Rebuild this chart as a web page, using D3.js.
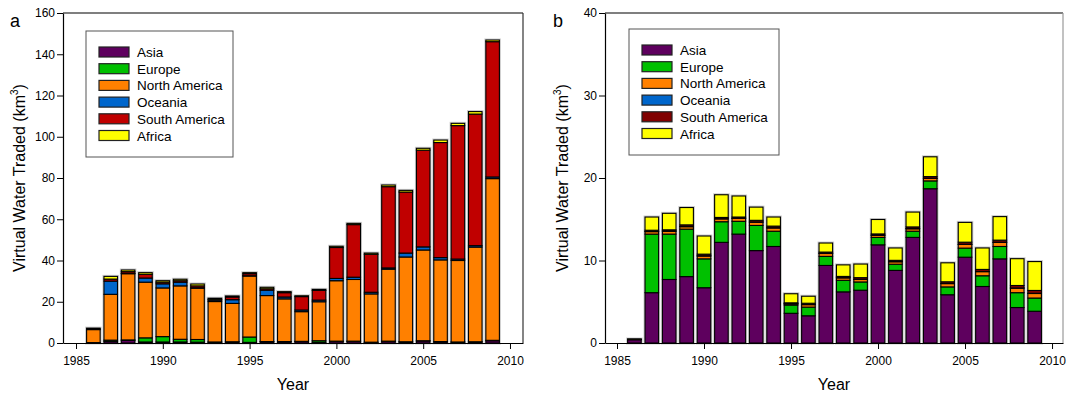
<!DOCTYPE html>
<html><head><meta charset="utf-8">
<script src="https://cdn.jsdelivr.net/npm/d3@7"></script>
<style>
body{margin:0;background:#fff;}
svg{display:block;font-family:"Liberation Sans",Arial,sans-serif;}
</style></head><body>
<svg id="c" width="1067" height="395"></svg>
<script>
const years = d3.range(1986, 2010);
const regions = ["Asia","Europe","North America","Oceania","South America","Africa"];
// Panel a values (km3), per year 1986..2009
const aAsia    = [0.1,0.8,1.3,0.5,0.5,0.5,0.4,0.4,0.5,0.3,0.6,0.6,0.7,0.3,0.8,0.8,0.3,0.8,0.5,1.0,0.6,0.4,0.5,1.1];
const aEurope  = [0.1,0.6,0.2,2.0,2.6,1.3,1.3,0.1,0.1,2.6,0.1,0.1,0.1,0.8,0.1,0.1,0.1,0.1,0.1,0.1,0.1,0.1,0.1,0.2];
const aNAm     = [6.3,22.2,32.1,27.0,23.6,25.9,24.9,19.6,18.6,29.6,22.3,20.7,14.4,18.9,29.3,29.9,23.4,34.9,41.1,44.0,39.6,39.5,45.9,78.4];
const aOceania = [0.1,6.4,0.2,2.0,2.0,1.8,0.2,0.7,1.8,0.1,2.6,0.9,0.8,0.8,1.1,1.1,0.8,0.6,1.9,1.5,1.1,0.7,0.7,0.8];
const aSAm     = [0.3,1.0,0.8,1.8,0.8,0.7,0.9,0.4,1.3,1.0,0.7,2.1,6.5,4.7,15.0,25.5,18.4,39.4,29.6,46.9,55.8,64.7,63.8,65.6];
const aAfrica  = [0.3,1.3,0.8,0.8,0.7,0.7,0.9,0.5,0.5,0.5,0.7,0.5,0.4,0.5,0.6,0.6,0.6,0.8,0.8,0.9,1.2,1.1,1.2,0.8];
// Panel b values (km3)
const bAsia    = [0.4,6.1,7.7,8.05,6.7,12.2,13.2,11.2,11.7,3.6,3.3,9.4,6.2,6.4,11.9,8.8,12.8,18.7,5.85,10.4,6.85,10.2,4.3,3.85];
const bEurope  = [0.02,7.1,5.5,5.75,3.5,2.5,1.55,3.05,1.85,1.0,1.05,1.1,1.4,1.0,0.9,0.75,0.75,0.95,0.95,1.1,1.3,1.5,1.8,1.6];
const bNAm     = [0.02,0.3,0.35,0.3,0.35,0.35,0.35,0.4,0.4,0.15,0.3,0.35,0.3,0.3,0.25,0.3,0.3,0.3,0.4,0.45,0.5,0.5,0.55,0.55];
const bOceania = [0.0,0.02,0.02,0.02,0.02,0.02,0.02,0.02,0.02,0.02,0.02,0.02,0.02,0.02,0.02,0.02,0.02,0.02,0.02,0.02,0.02,0.02,0.02,0.02];
const bSAm     = [0.02,0.15,0.15,0.2,0.2,0.15,0.15,0.2,0.2,0.1,0.15,0.15,0.15,0.2,0.15,0.15,0.2,0.2,0.2,0.25,0.25,0.25,0.3,0.35];
const bAfrica  = [0.02,1.6,2.0,2.1,2.2,2.75,2.55,1.6,1.1,1.1,0.85,1.1,1.4,1.65,1.75,1.5,1.8,2.4,2.3,2.4,2.6,2.85,3.25,3.5];
const xTicks = [1985,1990,1995,2000,2005,2010];
const aYTicks = [0,20,40,60,80,100,120,140,160];
const bYTicks = [0,10,20,30,40];

const colorsA = ["#5e005e","#00c000","#ff8000","#0066cc","#c00000","#ffff00"];
const colorsB = ["#5e005e","#00c000","#ff8000","#0066cc","#800000","#ffff00"];

const svg = d3.select("#c");

function panel(cfg){
  const g = svg.append("g");
  const x = d3.scaleLinear().domain(cfg.xdom).range([cfg.left, cfg.right]);
  const y = d3.scaleLinear().domain([0, cfg.ymax]).range([cfg.bottom, cfg.top]);
  const rows = years.map((yr,i)=>{
    const o = {year: yr};
    regions.forEach((r,k)=>{ o[r] = cfg.series[k][i]; });
    return o;
  });
  const stack = d3.stack().keys(regions)(rows);
  const bw = x(1986.39) - x(1986);
  // frame
  g.append("line").attr("x1",cfg.left).attr("x2",cfg.right).attr("y1",cfg.top).attr("y2",cfg.top).attr("stroke","#000").attr("stroke-width",1.2);
  g.append("line").attr("x1",cfg.right).attr("x2",cfg.right).attr("y1",cfg.top).attr("y2",cfg.bottom).attr("stroke",cfg.frameRight).attr("stroke-width",1.2);
  // halo behind bars
  g.append("g").selectAll("rect").data(rows).join("rect")
    .attr("x", d=>x(d.year)-bw).attr("width", bw*2)
    .attr("y", d=>y(d3.sum(regions,r=>d[r]))).attr("height", d=>cfg.bottom - y(d3.sum(regions,r=>d[r])))
    .attr("fill","none").attr("stroke","#cccccc").attr("stroke-width",3);
  // segments
  g.append("g").selectAll("g").data(stack).join("g")
    .attr("fill",(d,k)=>cfg.colors[k])
    .selectAll("rect").data(d=>d).join("rect")
    .attr("x", d=>x(d.data.year)-bw).attr("width", bw*2)
    .attr("y", d=>y(d[1])).attr("height", d=>Math.max(0, y(d[0])-y(d[1])))
    .attr("stroke","#000").attr("stroke-width",1.1);
  // axes
  const xa = g.append("g").attr("transform",`translate(0,${cfg.bottom})`)
    .call(d3.axisBottom(x).tickValues(xTicks).tickFormat(d3.format("d")).tickSize(6).tickSizeOuter(0));
  xa.select(".domain").attr("stroke","#000").attr("stroke-width",1.2);
  xa.selectAll("text").attr("font-family","'Liberation Sans Narrow','Liberation Sans',Arial,sans-serif").attr("font-size",12).attr("fill","#000").attr("dy","1.05em");
  const ya = g.append("g").attr("transform",`translate(${cfg.left},0)`)
    .call(d3.axisLeft(y).tickValues(cfg.yTicks).tickSize(6).tickSizeOuter(0));
  ya.select(".domain").attr("stroke","#000").attr("stroke-width",1.2);
  ya.selectAll("text").attr("font-family","'Liberation Sans',Arial,sans-serif").attr("font-size",12).attr("fill","#000").attr("x",-8);
  // titles
  g.append("text").attr("x",(cfg.left+cfg.right)/2).attr("y",390).attr("text-anchor","middle")
    .attr("font-size",16).text("Year");
  const yt = g.append("text").attr("transform",`translate(${cfg.ytitleX},178) rotate(-90)`)
    .attr("text-anchor","middle").attr("font-size",16);
  yt.append("tspan").text("Virtual Water Traded (km");
  yt.append("tspan").attr("font-size",10).attr("dy",-7).text("3");
  yt.append("tspan").attr("dy",7).text(")");
  g.append("text").attr("x",cfg.labelX).attr("y",27).attr("font-size",18).text(cfg.label);
  // legend
  const L = cfg.legend;
  g.append("rect").attr("x",L.x).attr("y",L.y).attr("width",L.w).attr("height",L.h)
    .attr("fill","#fff").attr("stroke","#555").attr("stroke-width",1);
  const li = g.append("g").selectAll("g").data(regions).join("g")
    .attr("transform",(d,k)=>`translate(${L.x+13},${L.y+L.first+k*16.7})`);
  li.append("rect").attr("x",0).attr("y",-5).attr("width",30).attr("height",10)
    .attr("fill",(d,k)=>cfg.colors[k]).attr("stroke","#222").attr("stroke-width",1.2);
  li.append("text").attr("x",38).attr("y",5).attr("font-size",13.5).text(d=>d);
}

panel({xdom:[1984.25,2010.75], left:63, right:523, top:13, bottom:343, ymax:160,
  series:[aAsia,aEurope,aNAm,aOceania,aSAm,aAfrica], colors:colorsA, yTicks:aYTicks,
  frameRight:"#333", ytitleX:25, label:"a", labelX:10,
  legend:{x:86,y:31,w:147,h:126,first:21}});
panel({xdom:[1984.31,2010.63], left:605, right:1063, top:13, bottom:343, ymax:40,
  series:[bAsia,bEurope,bNAm,bOceania,bSAm,bAfrica], colors:colorsB, yTicks:bYTicks,
  frameRight:"#999", ytitleX:568, label:"b", labelX:553,
  legend:{x:629,y:29,w:150,h:126,first:21}});
</script>
</body></html>
